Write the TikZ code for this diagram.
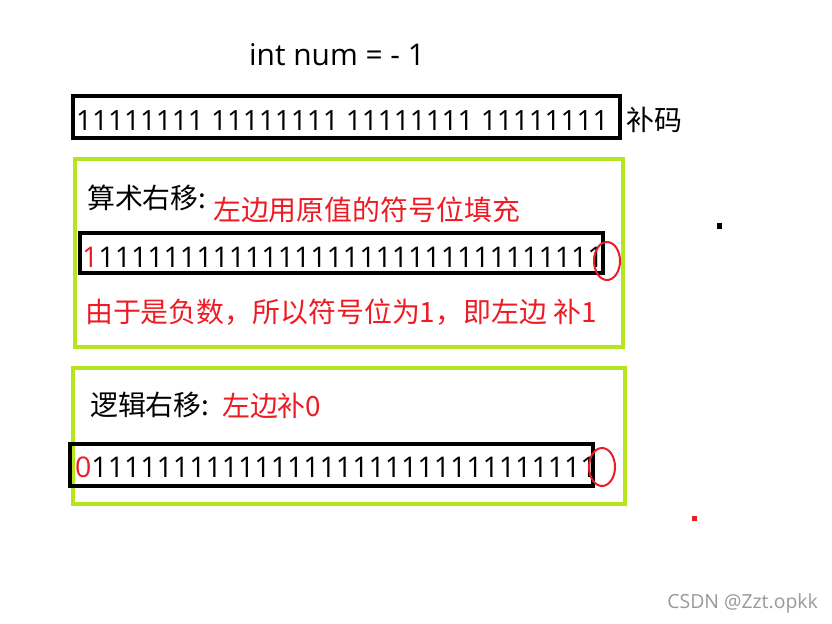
\documentclass[tikz,border=0pt]{standalone}
\usepackage{fontspec}
\setmainfont{Open Sans}
\newfontfamily\cjk{Noto Sans CJK SC}
\usepackage{tikz}
\usetikzlibrary{shapes.geometric}

\definecolor{limeline}{RGB}{181,230,29}
\definecolor{paintred}{RGB}{237,28,36}

\begin{document}
\begin{tikzpicture}[
    x=1bp,
    y=-1bp,
    font=\fontsize{28}{32}\selectfont,
    txt/.style={anchor=west, inner sep=0pt},
    bitrow/.style={txt, font=\fontsize{28.6}{32}\selectfont},
    hanzi/.style={txt, font=\fontsize{28}{32}\cjk},
    redtxt/.style={hanzi, text=paintred},
    binbox/.style={draw=black, line width=4.5bp},
    groupbox/.style={draw=limeline, line width=4bp},
    ring/.style={ellipse, draw=paintred, line width=2bp, inner sep=0pt,
        minimum width=26bp, minimum height=38bp},
    speck/.style={inner sep=0pt, minimum size=5bp}
]

\useasboundingbox (0,0) rectangle (832,624);

%------------------------------------------------
% Title and the two's complement of -1
%------------------------------------------------
\node[anchor=base, inner sep=0pt, font=\fontsize{30}{34}\selectfont]
    (title) at (337,66) {int num = - 1};

\draw[binbox] (73,96) rectangle (620,138);
\node[txt] (bits) at (76,121) {11111111 11111111 11111111 11111111};
\node[hanzi] (bu) at (626,120) {补码};

%------------------------------------------------
% Arithmetic shift
%------------------------------------------------
\draw[groupbox] (75,159) rectangle (623,347);

\node[hanzi] (arith) at (87,198) {算术右移:};
\node[redtxt] (arithnote) at (213,210) {左边用原值的符号位填充};

\draw[binbox] (80,233) rectangle (603,273);
\node[bitrow] (arithbits) at (82,257)
    {\textcolor{paintred}{1}1111111111111111111111111111111};
\node[ring] (arithend) at (607,261) {};

\node[redtxt] (arithwhy) at (85,312) {由于是负数，所以符号位为1，即左边 补1};

%------------------------------------------------
% Logical shift
%------------------------------------------------
\draw[groupbox] (73,368) rectangle (625,504);

\node[hanzi] (logic) at (90,405) {逻辑右移:};
\node[redtxt] (logicnote) at (222,406) {左边补0};

\draw[binbox] (70,444) rectangle (593,486);
\node[bitrow] (logicbits) at (75,467)
    {\textcolor{paintred}{0}1111111111111111111111111111111};
\node[ring] (logicend) at (602,467) {};

%------------------------------------------------
% Stray marks and watermark
%------------------------------------------------
\node[speck, fill=black] (blackdot) at (719,226) {};
\node[speck, fill=paintred] (reddot) at (694,518) {};

\node[anchor=east, inner sep=0pt, text=black!40,
    font=\fontsize{19.5}{23}\selectfont] (mark) at (818,603) {CSDN @Zzt.opkk};

\end{tikzpicture}
\end{document}
